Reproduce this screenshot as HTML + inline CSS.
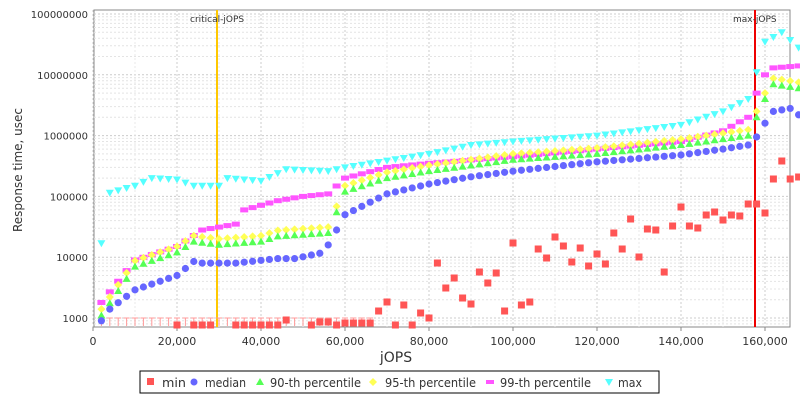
<!DOCTYPE html><html><head><meta charset="utf-8"><style>body{margin:0;background:#fff}svg{font-family:"DejaVu Sans",sans-serif}</style></head><body>
<svg id="s" width="800" height="400" xmlns="http://www.w3.org/2000/svg">
<rect x="0" y="0" width="800" height="400" fill="#fff"/>
<rect x="94" y="10" width="696" height="317" fill="#fff" stroke="#888"/>
<g id="g"></g>
<text x="396" y="362" font-size="14" fill="#333" text-anchor="middle">jOPS</text>
<text transform="translate(22,170) rotate(-90)" font-size="12" text-anchor="middle" fill="#333">Response time, usec</text>
<rect x="140" y="371" width="519" height="22" fill="#fff" stroke="#000"/>
<g font-size="12" fill="#333">
<rect x="147" y="378" width="7" height="7" fill="#f55"/><text x="162" y="387" textLength="24" lengthAdjust="spacingAndGlyphs">min</text>
<circle cx="194" cy="382" r="3.5" fill="#66f"/><text x="205" y="387" textLength="41" lengthAdjust="spacingAndGlyphs">median</text>
<polygon points="260,378 264,385 256,385" fill="#5f5"/><text x="270" y="387" textLength="91" lengthAdjust="spacingAndGlyphs">90-th percentile</text>
<polygon points="373,378 377,382 373,386 369,382" fill="#ff5"/><text x="385" y="387" textLength="91" lengthAdjust="spacingAndGlyphs">95-th percentile</text>
<rect x="486" y="380" width="8" height="4" fill="#f5f"/><text x="500" y="387" textLength="91" lengthAdjust="spacingAndGlyphs">99-th percentile</text>
<polygon points="605,379 613,379 609,386" fill="#5ff"/><text x="618" y="387" textLength="24" lengthAdjust="spacingAndGlyphs">max</text>
</g>
</svg>
<script>
const g=document.getElementById('g');let h='';
const X=v=>93+v*0.0042,Y=v=>318-(Math.log10(v)-3)*60.8;
for(let e=3;e<=8;e++){const y=Y(Math.pow(10,e));h+=`<line x1="94" x2="790" y1="${y}" y2="${y}" stroke="#ccc" stroke-dasharray="2,2"/><text x="88" y="${y+4}" font-size="10" text-anchor="end" fill="#333">${Math.pow(10,e)}</text>`;
for(let k=2;k<10;k++){const yy=Y(k*Math.pow(10,e-1));if(yy>10&&yy<327)h+=`<line x1="94" x2="790" y1="${yy}" y2="${yy}" stroke="#e4e4e4" stroke-dasharray="2,2"/>`;}}
for(let v=0;v<=160000;v+=20000){const x=X(v);h+=`<line x1="${x}" x2="${x}" y1="10" y2="327" stroke="#ccc" stroke-dasharray="2,2"/><line x1="${x}" x2="${x}" y1="327" y2="331" stroke="#888"/><text x="${x}" y="345" font-size="11" text-anchor="middle" fill="#333">${v.toLocaleString('en-US')}</text>`;}
for(let v=10000;v<168000;v+=20000){const x=X(v);h+=`<line x1="${x}" x2="${x}" y1="10" y2="327" stroke="#e8e8e8" stroke-dasharray="2,2"/>`}
function interp(p,v){for(let i=0;i<p.length-1;i++){if(v<=p[i+1][0]){const t=(v-p[i][0])/(p[i+1][0]-p[i][0]);return Math.pow(10,Math.log10(p[i][1])*(1-t)+Math.log10(p[i+1][1])*t);}}return p[p.length-1][1];}
const med=[[2e3,900],[4e3,1400],[10e3,2900],[20e3,5000],[24e3,8500],[26e3,8000],[34e3,8000],[44e3,9500],[48e3,9500],[55e3,12000],[58e3,28000],[60e3,50000],[70e3,110000],[80e3,160000],[90e3,210000],[100e3,260000],[120e3,370000],[140e3,480000],[150e3,600000],[156e3,700000],[158e3,950000],[160e3,1600000],[162e3,2500000],[166e3,2800000],[168e3,2200000]];
const p90=[[2e3,1100],[10e3,7000],[20e3,12000],[24e3,18000],[30e3,16000],[40e3,18000],[44e3,22000],[56e3,25000],[60e3,120000],[70e3,200000],[80e3,260000],[100e3,400000],[120e3,500000],[140e3,700000],[156e3,1000000],[158e3,2000000],[160e3,4000000],[162e3,7000000],[168e3,6000000]];
const p95=p90.map(a=>[a[0],a[1]*1.25]);p95[0][1]=1400;
const p99=[[2e3,1800],[10e3,9000],[20e3,15000],[26e3,28000],[34e3,35000],[36e3,60000],[44e3,85000],[50e3,100000],[56e3,110000],[60e3,200000],[70e3,300000],[80e3,350000],[100e3,450000],[140e3,800000],[150e3,1200000],[156e3,2000000],[158e3,5000000],[160e3,10000000],[162e3,13000000],[168e3,14000000]];
const mx=[[2e3,17000],[4e3,115000],[10e3,150000],[14e3,200000],[20e3,190000],[24e3,150000],[30e3,150000],[32e3,200000],[40e3,180000],[46e3,280000],[56e3,260000],[60e3,300000],[80e3,500000],[90e3,700000],[100e3,800000],[120e3,1000000],[140e3,1500000],[150e3,2500000],[156e3,4000000],[158e3,11000000],[160e3,35000000],[164e3,50000000],[168e3,28000000]];
h+=`<line x1="217" x2="217" y1="10" y2="327" stroke="#ffc800" stroke-width="2"/><text x="190" y="22" font-size="9" fill="#333">critical-jOPS</text>`;
h+=`<line x1="755" x2="755" y1="10" y2="327" stroke="#e00" stroke-width="2"/><text x="733" y="22" font-size="9" fill="#333">max-jOPS</text>`;
let pts='';
for(let v=2000;v<=168000;v+=2000){const x=X(v);
if(v<=66000){pts+=`<line x1="${x}" x2="${x}" y1="318" y2="326" stroke="#f99"/><line x1="${x-3}" x2="${x+3}" y1="318" y2="318" stroke="#f99"/>`;}
let y=Y(interp(mx,v));pts+=`<polygon points="${x-4},${y-3} ${x+4},${y-3} ${x},${y+4}" fill="#5ff"/>`;
y=Y(interp(p99,v));pts+=`<rect x="${x-4}" y="${y-2.5}" width="8" height="5" fill="#f5f"/>`;
y=Y(interp(p95,v));pts+=`<polygon points="${x},${y-4} ${x+4},${y} ${x},${y+4} ${x-4},${y}" fill="#ff5"/>`;
y=Y(interp(p90,v));pts+=`<polygon points="${x},${y-4} ${x+4},${y+3} ${x-4},${y+3}" fill="#5f5"/>`;
y=Y(interp(med,v));pts+=`<circle cx="${x}" cy="${y}" r="3.6" fill="#66f"/>`;}
const mn={20:325,24:325,26:325,28:325,34:325,36:325,38:325,40:325,42:325,44:325,46:320,52:325,54:322,56:322,58:325,60:323,62:323,64:323,66:323,68:311,70:302,72:325,74:305,76:325,78:313,80:318,82:263,84:288,86:278,88:298,90:304,92:272,94:283,96:273,98:311,100:243,102:305,104:302,106:249,108:258,110:237,112:246,114:262,116:248,118:266,120:254,122:264,124:233,126:249,128:219,130:257,132:229,134:230,136:272,138:226,140:207,142:226,144:228,146:215,148:212,150:220,152:215,154:216,156:204,158:204,160:213,162:179,164:161,166:179,168:177};
for(const k in mn){const x=X(k*1000);pts+=`<rect x="${x-3.5}" y="${mn[k]-3.5}" width="7" height="7" fill="#f55"/>`;}
g.innerHTML=h+pts;
</script></body></html>
